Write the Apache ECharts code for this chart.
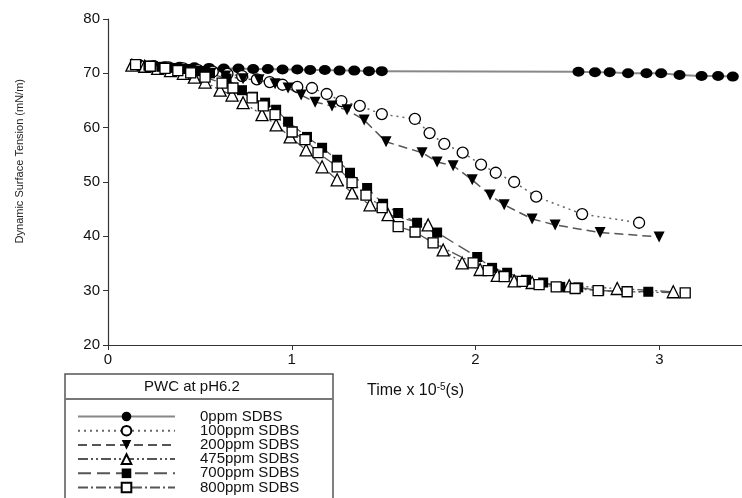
<!DOCTYPE html>
<html><head><meta charset="utf-8">
<script src="https://cdn.jsdelivr.net/npm/echarts@6/dist/echarts.min.js"></script>
<style>html,body{margin:0;padding:0;background:#fff}#c{width:742px;height:498px}</style>
</head><body><div id="c"></div>
<script>
const seriesNames = ['0ppm SDBS','100ppm SDBS','200ppm SDBS','475ppm SDBS','700ppm SDBS','800ppm SDBS'];
const xTicks = [0,1,2,3];
const yTicks = [20,30,40,50,60,70,80];

const t0 = [0.15,0.23,0.31,0.39,0.47,0.55,0.63,0.71,0.79,0.87,0.95,1.03,1.10,1.18,1.26,1.34,1.42,1.49,2.56,2.65,2.73,2.83,2.93,3.01,3.11,3.23,3.32,3.40];
const v0 = [71.5,71.4,71.3,71.2,71.1,71.0,70.9,70.9,70.8,70.8,70.7,70.7,70.6,70.6,70.5,70.5,70.4,70.4,70.3,70.2,70.2,70.0,70.0,70.0,69.7,69.5,69.5,69.4];

const t100 = [0.17,0.25,0.33,0.41,0.49,0.57,0.65,0.73,0.81,0.88,0.95,1.03,1.11,1.19,1.27,1.37,1.49,1.67,1.75,1.83,1.93,2.03,2.11,2.21,2.33,2.58,2.89];
const v100 = [71.5,71.3,71.1,70.9,70.6,70.3,69.9,69.5,68.9,68.4,67.9,67.5,67.3,66.2,64.9,64.0,62.5,61.6,59.0,57.0,55.4,53.2,51.7,50.0,47.3,44.1,42.5];

const t200 = [0.16,0.24,0.32,0.40,0.48,0.56,0.64,0.735,0.822,0.909,0.980,1.051,1.127,1.219,1.301,1.394,1.513,1.709,1.791,1.878,1.982,2.079,2.156,2.308,2.433,2.678,2.999];
const v200 = [71.4,71.2,71.0,70.7,70.4,70.0,69.5,69.0,68.8,68.1,67.3,66.0,64.7,64.0,63.3,61.4,57.4,55.4,53.7,53.0,50.4,47.6,45.8,43.2,42.1,40.7,39.9];

const t475 = [0.13,0.20,0.27,0.34,0.41,0.47,0.528,0.610,0.675,0.735,0.838,0.915,0.991,1.078,1.165,1.247,1.328,1.426,1.524,1.742,1.824,1.927,2.025,2.118,2.210,2.308,2.510,2.771,3.076];
const v475 = [71.5,71.3,70.9,70.5,70.0,69.3,68.4,66.9,66.0,64.6,62.4,60.5,58.3,55.9,52.8,50.4,48.0,45.8,44.0,42.1,37.5,35.1,33.9,32.8,31.8,31.5,30.9,30.4,29.8];

const t700 = [0.15,0.22,0.29,0.36,0.43,0.50,0.555,0.645,0.729,0.789,0.855,0.915,0.980,1.083,1.165,1.247,1.317,1.410,1.497,1.579,1.682,1.791,2.009,2.090,2.172,2.275,2.368,2.461,2.559,2.673,2.940];
const v700 = [71.6,71.4,71.2,71.0,70.8,70.4,70.0,69.0,66.9,65.7,64.6,63.3,61.1,58.3,56.3,54.1,51.7,48.9,46.0,44.3,42.5,40.7,36.2,34.2,33.3,32.0,31.5,30.7,30.6,30.0,29.8];

const t800 = [0.15,0.23,0.31,0.38,0.45,0.528,0.621,0.680,0.784,0.845,0.909,1.002,1.072,1.143,1.247,1.328,1.404,1.492,1.579,1.671,1.769,1.987,2.069,2.156,2.254,2.346,2.439,2.542,2.667,2.825,3.141];
const v800 = [71.6,71.3,70.9,70.5,70.1,69.3,68.2,67.3,65.5,64.0,62.4,59.2,57.8,55.4,52.8,49.9,47.6,45.3,41.8,40.8,38.8,35.1,33.7,32.6,31.7,31.1,30.7,30.4,30.0,29.8,29.6];

function pairs(t, v){ return t.map((x,i)=>[x, v[i]]); }

const FONT = 'Liberation Sans, Arial, sans-serif';
const chart = echarts.init(document.getElementById('c'), null, {renderer:'canvas'});

function mk(name, t, v, sym, size, fill, lineType, lineColor, lineWidth, rotate){
  return {
    name, type:'line', data: pairs(t,v), symbol: sym, symbolSize: size, symbolRotate: rotate||0,
    showAllSymbol: true, animation:false,
    itemStyle:{color: fill, borderColor:'#000', borderWidth: fill==='#fff'?1.3:0},
    lineStyle:{color: lineColor, width: lineWidth, type: lineType},
    emphasis:{disabled:true}
  };
}

const legends = seriesNames.map((n, i) => ({
  data:[n], orient:'vertical', left:77, top:409 + i*14.2, padding:0,
  itemWidth:97, itemHeight:12, itemGap:0, z:10, selectedMode:false,
  textStyle:{fontSize:15, color:'#111', fontFamily:FONT, padding:[0,0,0,20]}
}));

const option = {
  animation:false,
  backgroundColor:'#fff',
  grid:{left:108, right:0, top:19, bottom:153, containLabel:false},
  xAxis:{type:'value', min:0, max:3.45, interval:1,
    axisLine:{show:true, lineStyle:{color:'#333', width:1.2}},
    axisTick:{show:true, length:5, lineStyle:{color:'#333'}, customValues: xTicks},
    axisLabel:{fontSize:15, color:'#111', fontFamily:FONT, margin:7, customValues: xTicks},
    splitLine:{show:false}},
  yAxis:{type:'value', min:20, max:80, interval:10,
    axisLine:{show:true, lineStyle:{color:'#333', width:1.2}},
    axisTick:{show:true, length:5, lineStyle:{color:'#333'}},
    axisLabel:{fontSize:15, color:'#111', fontFamily:FONT, margin:8},
    splitLine:{show:false}},
  legend: legends,
  graphic:[
    {type:'text', z:5, left:14, top:79, rotation:Math.PI/2,
     style:{text:'Dynamic Surface Tension (mN/m)', fontSize:11, fill:'#222', fontFamily:FONT}},
    {type:'text', z:5, left:367, top:382,
     style:{text:'Time x 10{sup|-5}(s)', fontSize:16, fill:'#111', fontFamily:FONT,
       rich:{sup:{fontSize:10, verticalAlign:'top', fontFamily:FONT, fill:'#111', padding:[0,0,8,0]}}}},
    {type:'rect', z:1, shape:{x:65, y:374, width:268, height:140},
     style:{fill:'#fff', stroke:'#555', lineWidth:1.5}},
    {type:'line', z:2, shape:{x1:65, y1:399, x2:333, y2:399}, style:{stroke:'#777', lineWidth:2}},
    {type:'text', z:5, left:144, top:379,
     style:{text:'PWC at pH6.2', fontSize:15, fill:'#111', fontFamily:FONT}}
  ],
  series:[
    mk(seriesNames[0], t0, v0, 'circle', [12,10], '#000', 'solid', '#888', 2),
    mk(seriesNames[1], t100, v100, 'circle', 11, '#fff', [2,4], '#666', 1.5),
    mk(seriesNames[2], t200, v200, 'triangle', 11, '#000', [9,5], '#555', 1.5, 180),
    mk(seriesNames[3], t475, v475, 'triangle', 12, '#fff', [10,3,2,3,2,3], '#555', 1.3),
    mk(seriesNames[4], t700, v700, 'rect', 10, '#000', [13,6], '#555', 1.3),
    mk(seriesNames[5], t800, v800, 'rect', 10, '#fff', [10,3,2,3], '#555', 1.3)
  ]
};
chart.setOption(option);
</script></body></html>
